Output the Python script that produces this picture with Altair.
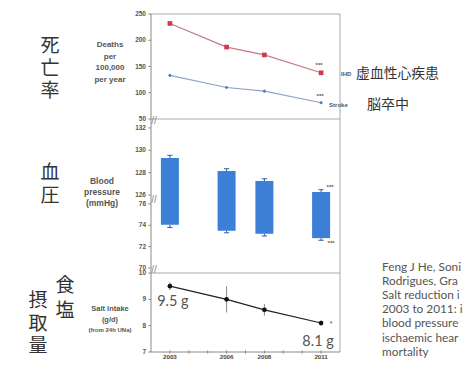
import altair as alt
import pandas as pd

# ---------------- data ----------------
years = [2003, 2006, 2008, 2011]
ihd = [232, 187, 172, 138]          # deaths per 100,000 per year
stroke = [133, 110, 103, 81]
sbp = [129.3, 128.15, 127.25, 126.27]   # systolic mmHg
dbp = [74.05, 73.5, 73.2, 72.8]         # diastolic mmHg
bp_err = [0.25, 0.2, 0.2, 0.2]
salt = [9.5, 9.0, 8.6, 8.1]             # g/d
salt_err = [0.15, 0.5, 0.22, 0.1]

top_ticks = [250, 200, 150, 100, 50]
bp_ticks = [132, 130, 128, 126, 76, 74, 72, 70]
salt_ticks = [10, 9, 8, 7]
year_ticks = list(range(2003, 2012))
year_labels = [2003, 2006, 2008, 2011]

# citation as visible (cut by the picture's right edge)
cite = ["Feng J He, Soni", "Rodrigues, Gra", "Salt reduction i",
        "2003 to 2011: i", "blood pressure", "ischaemic hear", "mortality"]

# ---------------- scales ----------------
XS = alt.Scale(domain=[2002, 2012], range=[143, 332], zero=False, nice=False, padding=0)
TOP = alt.Scale(domain=[50, 250], range=[111, 6], zero=False, nice=False, padding=0)
BP = alt.Scale(domain=[69.53, 76, 126, 132.8], range=[265, 196, 187, 111],
               zero=False, nice=False, padding=0)
SALT = alt.Scale(domain=[7, 10], range=[344, 265], zero=False, nice=False, padding=0)

FRAME = "#a9a9a9"
LAB = "#555555"
BOLDF = "Liberation Sans"


def X(f="year"):
    return alt.X(f"{f}:Q", scale=XS, axis=None)


def Y(f, sc):
    return alt.Y(f"{f}:Q", scale=sc, axis=None)


def note(text, x, y, **kw):
    return alt.Chart(alt.Data(values=[{}])).mark_text(text=text, **kw).encode(
        x=alt.value(x), y=alt.value(y))


layers = []

# ---------------- frames ----------------
def frame(rows, sc, color=FRAME):
    df = pd.DataFrame(rows, columns=["x", "x2", "y", "y2"])
    return alt.Chart(df).mark_rule(color=color, strokeWidth=1).encode(
        x=X("x"), x2="x2", y=Y("y", sc), y2="y2")

layers.append(frame([[2002, 2012, 250, 250], [2002, 2012, 50, 50],
                     [2012, 2012, 50, 250]], TOP))
layers.append(frame([[2002, 2002, 50, 250]], TOP, "#8a8a8a"))
layers.append(frame([[2012, 2012, 69.53, 132.8]], BP))
layers.append(frame([[2002, 2002, 69.53, 132.8]], BP, "#8a8a8a"))
layers.append(frame([[2002, 2012, 10, 10], [2012, 2012, 7, 10]], SALT))
layers.append(frame([[2002, 2012, 7, 7], [2002, 2002, 7, 10]], SALT, "#8a8a8a"))

# axis breaks
brk = pd.DataFrame({"x": [2002, 2002, 2002], "v": [132.6, 100, 69.8]})
layers.append(alt.Chart(brk).mark_text(text="//", fontSize=10, color="#888", dx=3,
                                       font=BOLDF).encode(x=X("x"), y=Y("v", BP)))

# ---------------- tick labels and ticks ----------------
def ticks(vals, sc):
    df = pd.DataFrame({"v": vals, "x": [2002] * len(vals)})
    t = alt.Chart(df).mark_text(align="right", baseline="middle", dx=-5, fontSize=6.5,
                                fontWeight="bold", color=LAB, font=BOLDF).encode(
        x=X("x"), y=Y("v", sc), text=alt.Text("v:Q"))
    m = alt.Chart(df).transform_calculate(x0="datum.x - 0.14").mark_rule(
        color="#888", strokeWidth=1).encode(x=X("x0"), x2="x", y=Y("v", sc))
    return [t, m]

layers += ticks(top_ticks, TOP)
layers += ticks(bp_ticks, BP)
layers += ticks(salt_ticks, SALT)

ydf = pd.DataFrame({"year": year_ticks, "v": [7] * len(year_ticks)})
layers.append(alt.Chart(ydf).transform_calculate(a="datum.v - 0.06", b="datum.v + 0.06")
              .mark_rule(color="#888").encode(x=X(), y=Y("a", SALT), y2="b"))
yl = pd.DataFrame({"year": year_labels, "v": [7] * len(year_labels)})
layers.append(alt.Chart(yl).mark_text(dy=4.5, baseline="middle", fontSize=6.2,
                                      fontWeight="bold", color="#444", font=BOLDF).encode(
    x=X(), y=Y("v", SALT), text=alt.Text("year:Q", format="d")))

# ---------------- mortality ----------------
ihd_df = pd.DataFrame({"year": years, "v": ihd})
str_df = pd.DataFrame({"year": years, "v": stroke})
layers.append(alt.Chart(ihd_df).mark_line(color="#c57a86", strokeWidth=1.2).encode(
    x=X(), y=Y("v", TOP)))
layers.append(alt.Chart(ihd_df).mark_point(shape="square", filled=True, size=22,
                                           color="#d2384f", opacity=1).encode(
    x=X(), y=Y("v", TOP)))
layers.append(alt.Chart(str_df).mark_line(color="#8ea4c6", strokeWidth=1.2).encode(
    x=X(), y=Y("v", TOP)))
layers.append(alt.Chart(str_df).mark_point(shape="diamond", filled=True, size=14,
                                           color="#4a78c2", opacity=1).encode(
    x=X(), y=Y("v", TOP)))

end_ihd = ihd_df.tail(1)
end_str = str_df.tail(1)
small = dict(fontSize=6, fontWeight="bold", color=LAB, font=BOLDF)
layers.append(alt.Chart(end_ihd).mark_text(text="***", dy=-8, dx=-2, **small).encode(
    x=X(), y=Y("v", TOP)))
layers.append(alt.Chart(end_str).mark_text(text="***", dy=-7, dx=-1, **small).encode(
    x=X(), y=Y("v", TOP)))
layers.append(alt.Chart(end_ihd).mark_text(text="IHD", align="left", dx=20, dy=1, **small)
              .encode(x=X(), y=Y("v", TOP)))
layers.append(alt.Chart(end_str).mark_text(text="Stroke", align="left", dx=8, dy=2, **small)
              .encode(x=X(), y=Y("v", TOP)))
cjk = "Noto Sans CJK JP"
layers.append(alt.Chart(end_ihd).mark_text(text="虚血性心疾患", align="left", dx=35, dy=1,
                                           fontSize=13.8, color="#333", font=cjk)
              .encode(x=X(), y=Y("v", TOP)))
layers.append(alt.Chart(end_str).mark_text(text="脳卒中", align="left", dx=46, dy=2,
                                           fontSize=14, color="#333", font=cjk)
              .encode(x=X(), y=Y("v", TOP)))

# ---------------- blood pressure ----------------
bp_df = pd.DataFrame({"year": years, "sbp": sbp, "dbp": dbp, "e": bp_err})
BLUE = "#3b7fd6"
layers.append(alt.Chart(bp_df).mark_bar(size=18, color=BLUE).encode(
    x=X(), y=Y("sbp", BP), y2="dbp"))
bp_w = alt.Chart(bp_df).transform_calculate(
    hi="datum.sbp + datum.e", lo="datum.dbp - datum.e",
    xa="datum.year - 0.14", xb="datum.year + 0.14")
layers.append(bp_w.mark_rule(color="#2e5f9e").encode(x=X(), y=Y("sbp", BP), y2="hi"))
layers.append(bp_w.mark_rule(color="#2e5f9e").encode(x=X("xa"), x2="xb", y=Y("hi", BP)))
layers.append(bp_w.mark_rule(color="#2e5f9e").encode(x=X(), y=Y("dbp", BP), y2="lo"))
layers.append(bp_w.mark_rule(color="#2e5f9e").encode(x=X("xa"), x2="xb", y=Y("lo", BP)))
end_bp = bp_df.tail(1)
layers.append(alt.Chart(end_bp).mark_text(text="***", dx=9, dy=-5, **small).encode(
    x=X(), y=Y("sbp", BP)))
layers.append(alt.Chart(end_bp).mark_text(text="***", dx=10, dy=5, **small).encode(
    x=X(), y=Y("dbp", BP)))

# ---------------- salt ----------------
salt_df = pd.DataFrame({"year": years, "v": salt, "e": salt_err})
sw = alt.Chart(salt_df).transform_calculate(hi="datum.v + datum.e", lo="datum.v - datum.e")
layers.append(sw.mark_rule(color="#8a8a8a").encode(x=X(), y=Y("lo", SALT), y2="hi"))
layers.append(alt.Chart(salt_df).mark_line(color="#222", strokeWidth=1.2).encode(
    x=X(), y=Y("v", SALT)))
layers.append(alt.Chart(salt_df).mark_point(filled=True, size=22, color="#111", opacity=1)
              .encode(x=X(), y=Y("v", SALT)))
gl = dict(fontSize=14.5, color="#555", font="Lato")
first_s = salt_df.head(1).assign(t="9.5 g")
last_s = salt_df.tail(1).assign(t="8.1 g")
layers.append(alt.Chart(first_s).mark_text(dx=3, dy=16, **gl).encode(
    x=X(), y=Y("v", SALT), text="t:N"))
layers.append(alt.Chart(last_s).mark_text(dx=-3, dy=19, **gl).encode(
    x=X(), y=Y("v", SALT), text="t:N"))
layers.append(alt.Chart(last_s).mark_text(text="*", dx=10, dy=1, fontSize=7, color="#555")
              .encode(x=X(), y=Y("v", SALT)))

# ---------------- titles ----------------
tl = dict(align="center", baseline="top", fontWeight="bold", color=LAB, font=BOLDF)
layers.append(note(["Deaths", "per", "100,000", "per year"], 102, 33,
                   fontSize=8, lineHeight=11.5, **tl))
layers.append(note(["Blood", "pressure", "(mmHg)"], 94, 169,
                   fontSize=8.5, lineHeight=11, **tl))
layers.append(note(["Salt intake", "(g/d)"], 102, 297, fontSize=7.5, lineHeight=11, **tl))
layers.append(note("(from 24h UNa)", 102, 319, fontSize=6, **tl))

cj = dict(align="center", baseline="top", fontSize=19, color="#333", font=cjk)
layers.append(note(["死", "亡", "率"], 42, 29, lineHeight=22.5, **cj))
layers.append(note(["血", "圧"], 42, 156, lineHeight=23, **cj))
layers.append(note(["食", "塩"], 57, 269, lineHeight=25, **cj))
layers.append(note(["摂", "取", "量"], 30, 284, lineHeight=22.5, **cj))

layers.append(note(cite, 374, 254, align="left", baseline="top", fontSize=11.8,
                   lineHeight=14.1, color="#555", font="Lato"))

chart = alt.layer(*layers).resolve_scale(y="independent").properties(
    width=456, height=351, autosize=alt.AutoSizeParams(type="none"), padding=0
).configure_view(strokeWidth=0)

chart.save("out.html", embed_options={"renderer": "svg", "actions": False})
